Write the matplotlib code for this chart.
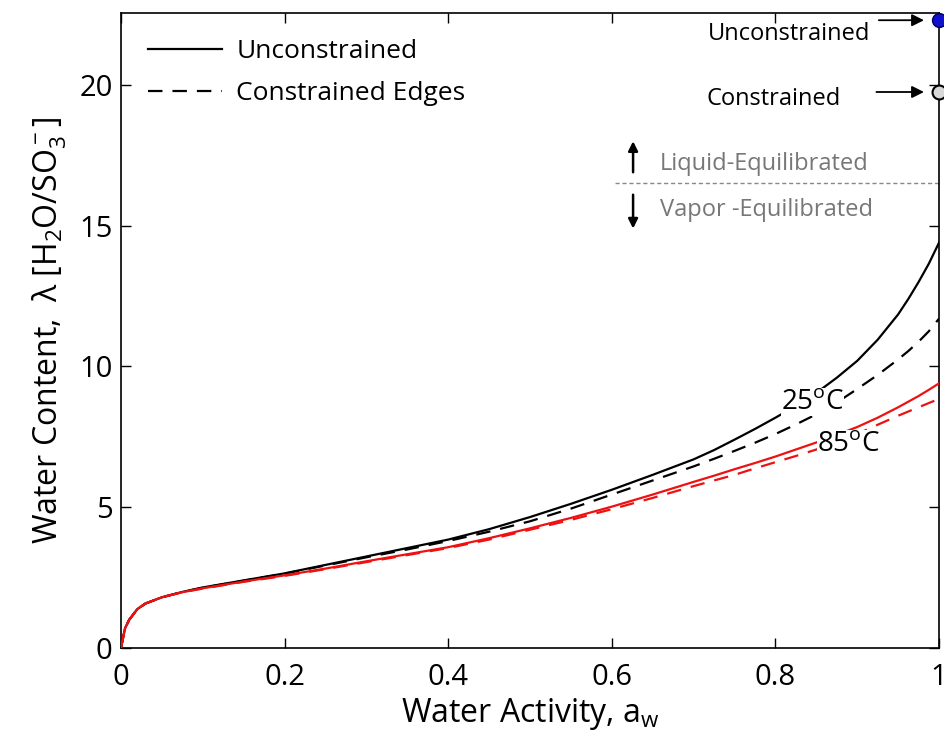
import matplotlib
matplotlib.use('Agg')
import matplotlib.pyplot as plt
from matplotlib.lines import Line2D

plt.rcParams['font.family'] = ['Open Sans', 'DejaVu Sans']
plt.rcParams['mathtext.fontset'] = 'custom'
plt.rcParams['mathtext.rm'] = 'Open Sans'
plt.rcParams['mathtext.it'] = 'Open Sans'

# Dane
aw = [0, 0.005, 0.01, 0.02, 0.03, 0.05, 0.075, 0.1, 0.15, 0.2, 0.25, 0.3, 0.35, 0.4,
      0.45, 0.5, 0.55, 0.6, 0.65, 0.7, 0.725, 0.75, 0.775, 0.8, 0.825, 0.85, 0.875,
      0.9, 0.925, 0.95, 0.9625, 0.975, 0.9875, 1.0]
lam_25_unc = [0, 0.7, 1.0, 1.38, 1.58, 1.8, 1.99, 2.15, 2.40, 2.65, 2.95, 3.25, 3.55, 3.85,
              4.22, 4.65, 5.12, 5.62, 6.15, 6.7, 7.03, 7.4, 7.78, 8.18, 8.6, 9.06, 9.6,
              10.2, 10.95, 11.85, 12.4, 13.0, 13.65, 14.4]
lam_25_con = [0, 0.7, 1.0, 1.38, 1.58, 1.8, 1.99, 2.14, 2.39, 2.64, 2.93, 3.22, 3.5, 3.8,
              4.13, 4.5, 4.95, 5.45, 5.95, 6.45, 6.72, 7.0, 7.29, 7.6, 7.94, 8.3, 8.72,
              9.2, 9.7, 10.25, 10.55, 10.88, 11.25, 11.7]
lam_85_unc = [0, 0.7, 1.0, 1.38, 1.58, 1.8, 1.98, 2.12, 2.36, 2.58, 2.82, 3.08, 3.33, 3.58,
              3.9, 4.25, 4.62, 5.02, 5.45, 5.9, 6.12, 6.35, 6.57, 6.8, 7.05, 7.3, 7.57,
              7.85, 8.18, 8.55, 8.75, 8.95, 9.17, 9.4]
lam_85_con = [0, 0.7, 1.0, 1.38, 1.58, 1.8, 1.98, 2.11, 2.35, 2.56, 2.8, 3.05, 3.3, 3.55,
              3.85, 4.2, 4.55, 4.93, 5.33, 5.75, 5.95, 6.15, 6.38, 6.6, 6.82, 7.05, 7.32,
              7.6, 7.93, 8.25, 8.4, 8.55, 8.7, 8.85]

# Punkty ciekłej wody (a_w = 1)
lam_liq_unc = 22.3
lam_liq_con = 19.75
lam_boundary = 16.5

fig = plt.figure(figsize=(9.45, 7.32), dpi=100)
ax = fig.add_axes([0.128, 0.1148, 0.8657, 0.8672])

dash = (6.5, 4.5)
ax.plot(aw, lam_25_unc, color='black', lw=1.6, zorder=2)
ax.plot(aw, lam_25_con, color='black', lw=1.6, dashes=dash, zorder=2)
ax.plot(aw, lam_85_unc, color='#ee1111', lw=1.6, zorder=3)
ax.plot(aw, lam_85_con, color='#ee1111', lw=1.6, dashes=dash, zorder=3)

# Etykiety temperatur (białe tło przykrywa krzywe)
ax.text(0.845, 8.75, '25$^{\\mathrm{o}}$C', fontsize=20, ha='center', va='center',
        bbox=dict(facecolor='white', edgecolor='none', pad=0), zorder=5)
ax.text(0.889, 7.25, '85$^{\\mathrm{o}}$C', fontsize=20, ha='center', va='center',
        bbox=dict(facecolor='white', edgecolor='none', pad=0), zorder=5)

# Punkty dla wody ciekłej
ax.plot([1.0], [lam_liq_unc], 'o', ms=10, mfc='#1010d0', mec='#000060', clip_on=False, zorder=6)
ax.plot([1.0], [lam_liq_con], 'o', ms=10, mfc='#d8d8d8', mec='black', mew=1.5, clip_on=False, zorder=6)

ax.annotate('', xy=(0.985, lam_liq_unc), xytext=(0.923, lam_liq_unc),
            arrowprops=dict(arrowstyle='-|>', color='black', lw=1.3, mutation_scale=18))
ax.text(0.916, 21.8, 'Unconstrained', fontsize=17, ha='right', va='center')
ax.annotate('', xy=(0.985, lam_liq_con), xytext=(0.92, lam_liq_con),
            arrowprops=dict(arrowstyle='-|>', color='black', lw=1.3, mutation_scale=18))
ax.text(0.88, 19.5, 'Constrained', fontsize=17, ha='right', va='center')

# Granica ciecz / para
ax.plot([0.604, 1.0], [lam_boundary, lam_boundary], color='#888888', lw=1.0, ls=(0, (3, 2)))
ax.annotate('', xy=(0.626, 18.1), xytext=(0.626, 16.8),
            arrowprops=dict(arrowstyle='-|>', color='black', lw=1.8, mutation_scale=14))
ax.annotate('', xy=(0.626, 14.8), xytext=(0.626, 16.2),
            arrowprops=dict(arrowstyle='-|>', color='black', lw=1.8, mutation_scale=14))
ax.text(0.659, 17.2, 'Liquid-Equilibrated', fontsize=17, color='#777777', va='center')
ax.text(0.659, 15.55, 'Vapor -Equilibrated', fontsize=17, color='#777777', va='center')

ax.set_xlim(0, 1)
ax.set_ylim(0, 22.55)
ax.set_xticks([0, 0.2, 0.4, 0.6, 0.8, 1.0])
ax.set_xticklabels(['0', '0.2', '0.4', '0.6', '0.8', '1'])
ax.set_yticks([0, 5, 10, 15, 20])
ax.tick_params(direction='in', top=True, right=True, length=7, width=1, labelsize=21)
ax.tick_params(axis='x', pad=11)
ax.tick_params(axis='y', pad=6)
for s in ax.spines.values():
    s.set_linewidth(1.2)

ax.set_xlabel('Water Activity, a$_\\mathrm{w}$', fontsize=23, labelpad=3)
ax.set_ylabel('Water Content,  $\\lambda$ [H$_2$O/SO$_3^-$]', fontsize=23, labelpad=8)

handles = [Line2D([], [], color='black', lw=1.6),
           Line2D([], [], color='black', lw=1.6, dashes=dash)]
ax.legend(handles, ['Unconstrained', 'Constrained Edges'], loc='upper left',
          frameon=False, fontsize=19, handlelength=2.8, handletextpad=0.55,
          labelspacing=0.65, borderpad=0, borderaxespad=0,
          bbox_to_anchor=(0.033, 0.959))

fig.savefig('out.png', dpi=100)
